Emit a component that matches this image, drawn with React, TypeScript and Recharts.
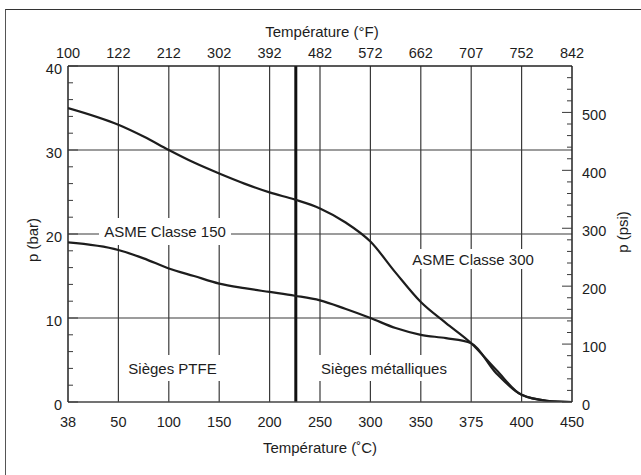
import { LineChart, Line, XAxis, YAxis, ReferenceLine } from "recharts";

const INK = "#1d1d1d";
const GRID = "#3a3a3a";
const FONT = "'Liberation Sans', Arial, sans-serif";

// axis labels (°C bottom, °F top) – the scale is evenly spaced by tick, not linear
const tempC = [38, 50, 100, 150, 200, 250, 300, 350, 375, 400, 450];
const tempF = [100, 122, 212, 302, 392, 482, 572, 662, 707, 752, 842];
const barTicks = [0, 2, 4, 6, 8, 10, 12, 14, 16, 18, 20, 22, 24, 26, 28, 30, 32, 34, 36, 38, 40];
const psiTicks = [0, 20, 40, 60, 80, 100, 120, 140, 160, 180, 200, 220, 240, 260, 280, 300, 320, 340, 360, 380, 400, 420, 440, 460, 480, 500, 520, 540, 560];
const barGrid = [10, 20, 30];
const seatLimitC = 226;

// curves (°C, bar)
const sampleC = [38, 50, 75, 100, 125, 150, 175, 200, 225, 250, 275, 300, 325, 350, 362.5, 375, 387.5, 400, 425, 450];
const class150 = [19.0, 18.1, 17.1, 15.9, 15.0, 14.1, 13.55, 13.1, 12.65, 12.1, 11.1, 10.0, 8.8, 8.0, 7.6, 7.0, 3.4, 0.85, 0.15, 0];
const class300 = [35.0, 33.0, 31.6, 30.0, 28.5, 27.2, 26.0, 24.95, 24.1, 23.05, 21.4, 19.1, 15.4, 11.9, 9.4, 7.0, 3.8, 0.85, 0.15, 0];

const PSI_PER_BAR = 14.5038;

// position along the piecewise °C axis
function toPos(t: number) {
  for (let i = 0; i < tempC.length - 1; i++) {
    if (t <= tempC[i + 1]) return i + (t - tempC[i]) / (tempC[i + 1] - tempC[i]);
  }
  return tempC.length - 1;
}

const data = sampleC.map((t, i) => ({ t, pos: toPos(t), c150: class150[i], c300: class300[i] }));
const xTicks = tempC.map((_, i) => i);

const txt = { fontFamily: FONT, fontSize: 14.5, fill: INK };

function LeftTick({ x, y, payload }: any) {
  const major = payload.value % 10 === 0;
  return (
    <g>
      <line x1={x} y1={y} x2={x + (major ? 10 : 5)} y2={y} stroke={GRID} />
      {major && <text x={x - 6} y={y + 3} dy="0.35em" textAnchor="end" {...txt}>{payload.value}</text>}
    </g>
  );
}

function RightTick({ x, y, payload }: any) {
  const major = payload.value % 100 === 0;
  return (
    <g>
      <line x1={x} y1={y} x2={x - (major ? 10 : 5)} y2={y} stroke={GRID} />
      {major && <text x={x + 10} y={y + 3} dy="0.35em" textAnchor="start" {...txt}>{payload.value}</text>}
    </g>
  );
}

function BottomTick({ x, y, payload }: any) {
  return <text x={x} y={y + 20} dy="0.35em" textAnchor="middle" {...txt}>{tempC[payload.value]}</text>;
}

function TopTick({ x, y, payload }: any) {
  return <text x={x} y={y - 13} dy="0.35em" textAnchor="middle" {...txt}>{tempF[payload.value]}</text>;
}

const label = (left: number, top: number, w: number, h: number, s: string) => (
  <div style={{
    position: "absolute", left, top, width: w, height: h, background: "#fff",
    display: "flex", alignItems: "center", justifyContent: "center",
    fontFamily: FONT, fontSize: 15, color: INK, whiteSpace: "nowrap",
  }}>{s}</div>
);

const title = { position: "absolute" as const, fontFamily: FONT, fontSize: 15, color: INK, whiteSpace: "nowrap" as const };

export default function App() {
  return (
    <div style={{ position: "fixed", left: 0, top: 0, width: 641, height: 475, background: "#fff", overflow: "hidden" }}>
      <div style={{ position: "absolute", left: 5, top: 9, width: 800, height: 600, borderTop: "1px solid #333", borderLeft: "1px solid #555" }} />
      <div style={{ position: "absolute", left: 0, top: 0 }}>
        <LineChart width={641} height={475} data={data} margin={{ top: 36, right: 9, bottom: 43, left: 8 }}>
          <XAxis xAxisId="bottom" dataKey="pos" type="number" domain={[0, 10]} allowDataOverflow ticks={xTicks} interval={0}
            tick={<BottomTick />} tickLine={false} tickSize={0} tickMargin={0} height={30}
            axisLine={{ stroke: "#444", strokeWidth: 1.5 }} />
          <XAxis xAxisId="top" dataKey="pos" orientation="top" type="number" domain={[0, 10]} allowDataOverflow ticks={xTicks} interval={0}
            tick={<TopTick />} tickLine={false} tickSize={0} tickMargin={0} height={30}
            axisLine={{ stroke: "#222", strokeWidth: 1.5 }} />
          <YAxis yAxisId="left" type="number" domain={[0, 40]} allowDataOverflow ticks={barTicks} interval={0}
            tick={<LeftTick />} tickLine={false} tickSize={0} tickMargin={0} width={60}
            axisLine={{ stroke: "#222", strokeWidth: 1.5 }} />
          <YAxis yAxisId="right" orientation="right" type="number" domain={[0, 40 * PSI_PER_BAR]} allowDataOverflow ticks={psiTicks} interval={0}
            tick={<RightTick />} tickLine={false} tickSize={0} tickMargin={0} width={60}
            axisLine={{ stroke: "#222", strokeWidth: 1.5 }} />

          {xTicks.slice(1, -1).map(p => (
            <ReferenceLine key={"v" + p} xAxisId="bottom" yAxisId="left" x={p} stroke={GRID} strokeWidth={1.2} />
          ))}
          {barGrid.map(v => (
            <ReferenceLine key={"h" + v} xAxisId="bottom" yAxisId="left" y={v} stroke={GRID} strokeWidth={1.2} />
          ))}
          <ReferenceLine xAxisId="bottom" yAxisId="left" x={toPos(seatLimitC)} stroke="#111" strokeWidth={3} />

          <Line xAxisId="bottom" yAxisId="left" dataKey="c150" type="monotone" stroke={INK} strokeWidth={2.2} dot={false} isAnimationActive={false} />
          <Line xAxisId="bottom" yAxisId="left" dataKey="c300" type="monotone" stroke={INK} strokeWidth={2.2} dot={false} isAnimationActive={false} />
        </LineChart>
      </div>

      {label(99, 218, 132, 27, "ASME Classe 150")}
      {label(407, 249, 132, 20, "ASME Classe 300")}
      {label(123, 355, 99, 26, "Sièges PTFE")}
      {label(317, 355, 134, 26, "Sièges métalliques")}

      <div style={{ ...title, left: 222, top: 23, width: 200, textAlign: "center" }}>Température (°F)</div>
      <div style={{ ...title, left: 220, top: 439, width: 200, textAlign: "center" }}>Température (˚C)</div>
      <div style={{ ...title, left: 32, top: 240, transform: "translate(-50%, -50%) rotate(-90deg)" }}>p (bar)</div>
      <div style={{ ...title, left: 622, top: 232, transform: "translate(-50%, -50%) rotate(-90deg)" }}>p (psi)</div>
    </div>
  );
}
